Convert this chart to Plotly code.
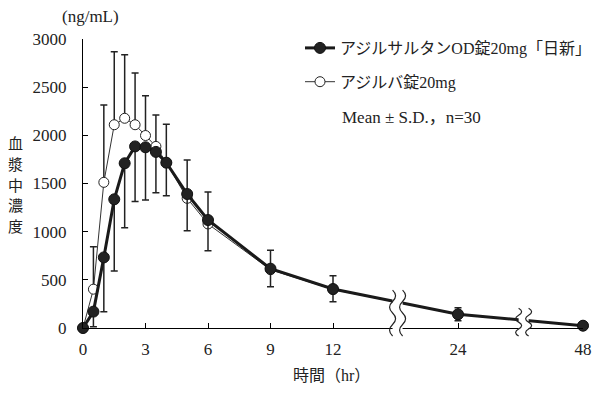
import numpy as np
import plotly.graph_objects as go

# ---- data ----
t_hours = [0, 0.5, 1, 1.5, 2, 2.5, 3, 3.5, 4, 5, 6, 9, 12, 24, 48]
od_mean = [0, 170, 733, 1336, 1710, 1885, 1876, 1828, 1716, 1391, 1121, 616, 405, 142, 24]
od_sd = [0, 157, 564, 744, 669, 572, 547, 424, 343, 381, 319, 187, 132, 66, 12]
az_mean = [0, 403, 1512, 2110, 2177, 2110, 1998, 1885, 1716, 1346, 1080, 605, 400, 140, 24]
az_sd = [0, 441, 802, 758, 659, 536, 413, 327, 398, 398, 332, 202, 143, 71, 14]

tick_hours = [0, 3, 6, 9, 12, 24, 48]
tick_pos = [0, 3, 6, 9, 12, 18, 24]          # broken-axis positions
break_pos = [15.1, 21.15]                    # axis positions of the breaks
y_ticks = [0, 500, 1000, 1500, 2000, 2500, 3000]

name_od = "アジルサルタンOD錠20mg「日新」"
name_az = "アジルバ錠20mg"
y_title = "血漿中濃度"

# ---- layout geometry (page body has an 8px margin) ----
OFF = 8
SCREEN_W, SCREEN_H = 611, 398
AX_L, AX_R, AX_T, AX_B = 83, 583, 39, 328     # plot area in window pixels
W, H = SCREEN_W - OFF, SCREEN_H - OFF
ML, MT = AX_L - OFF, AX_T - OFF
PW, PH = AX_R - AX_L, AX_B - AX_T
MR, MB = W - ML - PW, H - MT - PH
XMIN, XMAX = 0, 24
YMIN, YMAX = 0, 3000

xpos = np.interp(t_hours, tick_hours, tick_pos)

SERIF = "Liberation Serif, Noto Sans CJK JP"
CJK = "Noto Sans CJK JP"
TXT = "#222222"


def sx(px):
    return (px - AX_L) / PW


def sy(py):
    return (AX_B - py) / PH


fig = go.Figure()

fig.add_trace(go.Scatter(
    x=xpos, y=az_mean, name=name_az, mode="lines+markers",
    legendgroup="az", legendrank=2,
    line=dict(color="#333333", width=1),
    marker=dict(symbol="circle", size=10, color="white",
                line=dict(color="#222222", width=1)),
    error_y=dict(type="data", symmetric=False, array=az_sd,
                 arrayminus=[0] * len(az_sd), color="#222222",
                 thickness=1.5, width=3.5),
    cliponaxis=False,
))
fig.add_trace(go.Scatter(
    x=xpos, y=od_mean, name=name_od, mode="lines+markers",
    legendgroup="od", legendrank=1,
    line=dict(color="#1a1a1a", width=3),
    marker=dict(symbol="circle", size=11, color="#222222",
                line=dict(color="#111111", width=1)),
    error_y=dict(type="data", symmetric=False, array=[0] * len(od_sd),
                 arrayminus=od_sd, color="#222222",
                 thickness=1.5, width=3.5),
    cliponaxis=False,
))

shapes = []
for bp in break_pos:
    line_val = float(np.interp(bp, xpos, od_mean))
    ytop = (line_val - YMIN) / (YMAX - YMIN) + 12 / PH
    ybot = -8 / PH
    xc = (bp - XMIN) / (XMAX - XMIN)
    dx = 5 / PW
    shapes.append(dict(type="rect", xref="paper", yref="paper",
                       x0=xc - dx, x1=xc + dx, y0=ybot, y1=ytop,
                       fillcolor="white", line=dict(width=0), layer="above"))
    for xs in (xc - dx, xc + dx):
        n = 4
        seg = (ytop - ybot) / n
        amp = 6 / PW
        path = f"M{xs},{ytop}"
        y = ytop
        for i in range(n):
            sgn = 1 if i % 2 == 0 else -1
            path += f" Q{xs + sgn * amp},{y - seg / 2} {xs},{y - seg}"
            y -= seg
        shapes.append(dict(type="path", xref="paper", yref="paper", path=path,
                           line=dict(color="#222222", width=1.2), layer="above"))

annotations = [
    dict(text="(ng/mL)", xref="paper", yref="paper", x=sx(90), y=sy(17),
         showarrow=False, xanchor="center", yanchor="middle",
         font=dict(family=SERIF, size=17, color=TXT)),
    dict(text="時間（hr）", xref="paper", yref="paper", x=sx(331), y=sy(375),
         showarrow=False, xanchor="center", yanchor="middle",
         font=dict(family=SERIF, size=16, color=TXT)),
    dict(text="Mean ± S.D.，n=30", xref="paper", yref="paper", x=sx(340), y=sy(118),
         showarrow=False, xanchor="left", yanchor="middle",
         font=dict(family=SERIF, size=17, color=TXT)),
]
# vertical y-axis title, one character per line
for i, ch in enumerate(y_title):
    annotations.append(dict(text=ch, xref="paper", yref="paper", x=sx(15),
                            y=sy(142 + i * 21), showarrow=False,
                            xanchor="center", yanchor="middle",
                            font=dict(family=CJK, size=15, color=TXT)))

fig.update_layout(
    width=W, height=H,
    margin=dict(l=ML, r=MR, t=MT, b=MB, autoexpand=False),
    paper_bgcolor="white", plot_bgcolor="white",
    showlegend=True,
    legend=dict(x=sx(300), y=sy(31), xanchor="left", yanchor="top",
                traceorder="grouped", tracegroupgap=10,
                bgcolor="rgba(0,0,0,0)",
                font=dict(family=SERIF, size=16, color=TXT)),
    xaxis=dict(range=[XMIN, XMAX], tickvals=tick_pos,
               ticktext=[str(h) for h in tick_hours],
               showgrid=False, zeroline=False, showline=True,
               linecolor="black", linewidth=1, ticks="inside", ticklen=5,
               tickcolor="black", ticklabelstandoff=6,
               tickfont=dict(family=SERIF, size=17, color=TXT)),
    yaxis=dict(range=[YMIN, YMAX], tickvals=y_ticks,
               showgrid=False, zeroline=False, showline=True,
               linecolor="black", linewidth=1, ticks="inside", ticklen=5,
               tickcolor="black", ticklabelstandoff=12,
               tickfont=dict(family=SERIF, size=17, color=TXT)),
    shapes=shapes,
    annotations=annotations,
)

fig.write_html("out.html")
